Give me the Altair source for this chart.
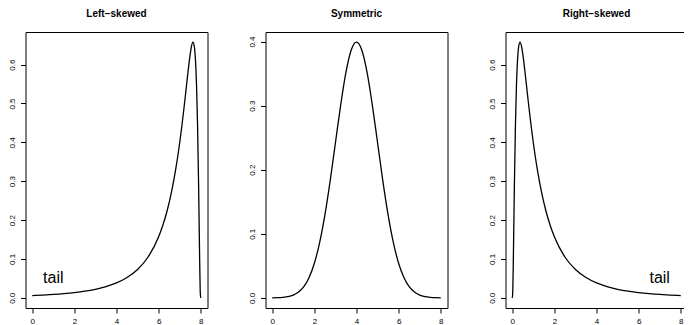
import altair as alt
import pandas as pd

FONT = "Liberation Sans"

# Right-skewed density
right_x = [0, 0.02, 0.03, 0.05, 0.1, 0.15, 0.2, 0.25, 0.3, 0.37, 0.45, 0.5, 0.6, 0.7, 0.8, 0.9,
           1.0, 1.2, 1.4, 1.6, 1.8, 2.0, 2.5, 3.0, 3.5, 4.0, 4.5, 5.0, 5.5, 6.0, 6.5, 7.0, 7.5, 8.0]
right_y = [0, 0.0095, 0.0284, 0.0898, 0.2816, 0.4399, 0.5464, 0.6105, 0.6442, 0.6577, 0.6445,
           0.6275, 0.5836, 0.5348, 0.4864, 0.4408, 0.3989, 0.3270, 0.2693, 0.2233, 0.1865,
           0.1569, 0.1049, 0.0727, 0.0520, 0.0382, 0.0286, 0.0219, 0.0170, 0.0134, 0.0107,
           0.0086, 0.0070, 0.0057]

# Left-skewed density
left_x = [0, 0.5, 1.0, 1.5, 2.0, 2.5, 3.0, 3.5, 4.0, 4.5, 5.0, 5.5, 6.0, 6.2, 6.4, 6.6, 6.8,
          7.0, 7.1, 7.2, 7.3, 7.4, 7.5, 7.55, 7.63, 7.7, 7.75, 7.8, 7.85, 7.9, 7.95, 7.97, 7.98, 8.0]
left_y = [0.0057, 0.0070, 0.0086, 0.0107, 0.0134, 0.0170, 0.0219, 0.0286, 0.0382, 0.0520,
          0.0727, 0.1049, 0.1569, 0.1865, 0.2233, 0.2693, 0.3270, 0.3989, 0.4408, 0.4864,
          0.5348, 0.5836, 0.6275, 0.6445, 0.6577, 0.6442, 0.6105, 0.5464, 0.4399, 0.2816,
          0.0898, 0.0284, 0.0095, 0]

# Symmetric density
sym_x = [0, 0.25, 0.5, 0.75, 1.0, 1.25, 1.5, 1.75, 2.0, 2.25, 2.5, 2.75, 3.0, 3.25, 3.5, 3.75,
         4.0, 4.25, 4.5, 4.75, 5.0, 5.25, 5.5, 5.75, 6.0, 6.25, 6.5, 6.75, 7.0, 7.25, 7.5, 7.75, 8.0]
sym_y = [0.00013, 0.00035, 0.00087, 0.0020, 0.0044, 0.0091, 0.0175, 0.0317, 0.0540, 0.0863,
         0.1295, 0.1826, 0.2420, 0.3011, 0.3521, 0.3867, 0.3989, 0.3867, 0.3521, 0.3011,
         0.2420, 0.1826, 0.1295, 0.0863, 0.0540, 0.0317, 0.0175, 0.0091, 0.0044, 0.0020,
         0.00087, 0.00035, 0.00013]

titles = ["Left\u2212skewed", "Symmetric", "Right\u2212skewed"]
x_ticks = [0, 2, 4, 6, 8]
y_ticks_skew = [0.0, 0.1, 0.2, 0.3, 0.4, 0.5, 0.6]
y_ticks_sym = [0.0, 0.1, 0.2, 0.3, 0.4]
tail_label = "tail"
tail_x = [1, None, 7]
tail_y = [0.05, None, 0.05]

W, H = 182, 276


def padded(lo, hi):
    r = hi - lo
    return [lo - 0.04 * r, hi + 0.04 * r]


def panel(title, xs, ys, yticks, tx=None, ty=None):
    df = pd.DataFrame({"x": xs, "y": ys})
    xdom = padded(min(xs), max(xs))
    ydom = padded(min(ys), max(ys))
    xs_ = alt.Scale(domain=xdom, nice=False, zero=False)
    ys_ = alt.Scale(domain=ydom, nice=False, zero=False)
    line = alt.Chart(df).mark_line(color="black", strokeWidth=1.3, interpolate="monotone").encode(
        x=alt.X("x:Q", scale=xs_, axis=alt.Axis(
            values=x_ticks, title=None, grid=False, domain=False, tickColor="black",
            tickSize=5, tickWidth=1, labelFontSize=8, labelColor="black", labelFont=FONT,
            labelPadding=4, labelFlush=False, labelOverlap=False, labelBaseline="top")),
        y=alt.Y("y:Q", scale=ys_, axis=alt.Axis(
            values=yticks, format=".1f", title=None, grid=False, domain=False,
            tickColor="black", tickSize=5, tickWidth=1, labelFontSize=8, labelColor="black",
            labelFont=FONT, labelAngle=270, labelAlign="center", labelBaseline="alphabetic",
            labelPadding=6, labelFlush=False, labelOverlap=False,
            minExtent=17.5, maxExtent=17.5)),
    )
    ttl = alt.Chart(pd.DataFrame({"t": [title]})).mark_text(
        fontSize=10, fontWeight="bold", font=FONT, color="black",
        align="center", baseline="top").encode(
        x=alt.value(W / 2), y=alt.value(-23.5), text="t:N")
    layers = [line, ttl]
    if tx is not None:
        tdf = pd.DataFrame({"x": [tx], "y": [ty], "t": [tail_label]})
        txt = alt.Chart(tdf).mark_text(fontSize=16, font=FONT, color="black",
                                       align="center", baseline="middle").encode(
            x=alt.X("x:Q", scale=xs_), y=alt.Y("y:Q", scale=ys_), text="t:N")
        layers.append(txt)
    return alt.layer(*layers).properties(width=W, height=H)


p1 = panel(titles[0], left_x, left_y, y_ticks_skew, tail_x[0], tail_y[0])
p2 = panel(titles[1], sym_x, sym_y, y_ticks_sym)
p3 = panel(titles[2], right_x, right_y, y_ticks_skew, tail_x[2], tail_y[2])

chart = alt.hconcat(p1, p2, p3, spacing=58, bounds="flush").properties(
    autosize=alt.AutoSizeParams(type="none"),
    padding={"left": 17.5, "top": 24, "right": 658.5, "bottom": 17},
    background="white",
).configure_view(stroke="black", strokeWidth=1)

chart.save("out.html", embed_options={"renderer": "svg", "actions": False})
